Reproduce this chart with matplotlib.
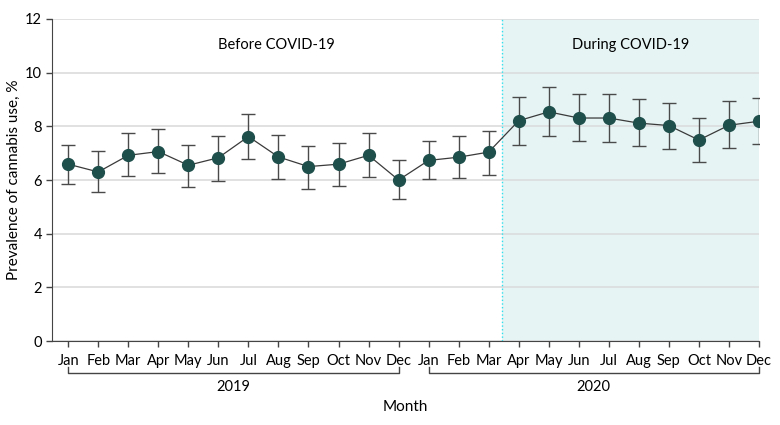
import numpy as np
import matplotlib.pyplot as plt
import matplotlib.transforms as mtransforms

plt.rcParams['font.family'] = ['Lato', 'DejaVu Sans']

# month labels (2019 then 2020)
months = ['Jan', 'Feb', 'Mar', 'Apr', 'May', 'Jun',
          'Jul', 'Aug', 'Sep', 'Oct', 'Nov', 'Dec'] * 2
years = ['2019', '2020']

# prevalence estimates and 95% CI bounds, %
prevalence = [6.59, 6.30, 6.92, 7.06, 6.55, 6.83, 7.62, 6.86, 6.50, 6.59, 6.92, 6.00,
              6.73, 6.85, 7.04, 8.21, 8.54, 8.31, 8.31, 8.12, 8.03, 7.49, 8.04, 8.19]
ci_upper = [7.29, 7.07, 7.74, 7.91, 7.32, 7.65, 8.47, 7.68, 7.28, 7.38, 7.75, 6.75,
            7.45, 7.63, 7.81, 9.09, 9.46, 9.19, 9.19, 9.01, 8.88, 8.32, 8.93, 9.07]
ci_lower = [5.85, 5.54, 6.14, 6.25, 5.75, 5.95, 6.80, 6.04, 5.67, 5.77, 6.12, 5.28,
            6.03, 6.06, 6.19, 7.32, 7.63, 7.44, 7.43, 7.26, 7.16, 6.66, 7.18, 7.33]

covid_start = 14.45

x = np.arange(len(prevalence))
y = np.array(prevalence)
yerr = [y - np.array(ci_lower), np.array(ci_upper) - y]

fig = plt.figure(figsize=(7.8, 4.25), dpi=100, facecolor='w')
ax = fig.add_axes([0.0663, 0.1976, 0.9067, 0.7577])

ax.axvspan(covid_start, 23, color='#e6f4f4', zorder=0, lw=0)
ax.axvline(covid_start, color='#2fe0ee', ls=':', lw=1, zorder=1)
ax.grid(True, axis='y', color='#dcdcdc', lw=1.2, zorder=0.5)
ax.set_axisbelow(True)

ax.errorbar(x, y, yerr=yerr, fmt='none', ecolor='#4a4a4a', elinewidth=1,
            capsize=5, capthick=1, zorder=2)
ax.plot(x, y, color='#3a3a3a', lw=0.9, zorder=3)
ax.plot(x, y, 'o', color='#1f4f4b', ms=8.5, zorder=4)

ax.set_xlim(-0.55, 23)
ax.set_ylim(0, 12)
ax.set_yticks(np.arange(0, 13, 2))
ax.set_xticks(x)
ax.set_xticklabels(months)
ax.tick_params(axis='both', labelsize=10.5, color='#444444', length=4, width=1, pad=3)
ax.tick_params(axis='x', pad=5)
for s in ['top', 'right']:
    ax.spines[s].set_visible(False)
for s in ['left', 'bottom']:
    ax.spines[s].set_color('#444444')

ax.text(6.93, 11.03, 'Before COVID-19', ha='center', va='center', fontsize=10.5)
ax.text(18.72, 11.03, 'During COVID-19', ha='center', va='center', fontsize=10.5)

# year brackets below the month labels
trans = mtransforms.blended_transform_factory(ax.transData, ax.transAxes)
for i, yr in enumerate(years):
    x0, x1 = i * 12, i * 12 + 11
    ax.plot([x0, x0, x1, x1], [-0.080, -0.098, -0.098, -0.080], color='#444444',
            lw=1, transform=trans, clip_on=False)
    ax.text((x0 + x1) / 2, -0.142, yr, ha='center', va='center', fontsize=10.5,
            transform=trans)

ax.set_xlabel('Month', fontsize=11)
ax.xaxis.set_label_coords(0.5, -0.204)
ax.xaxis.label.set_va('center')
ax.set_ylabel('Prevalence of cannabis use, %', fontsize=11)
ax.yaxis.set_label_coords(-0.053, 0.5)
ax.yaxis.label.set_va('center')

fig.savefig('out.png', dpi=100)
